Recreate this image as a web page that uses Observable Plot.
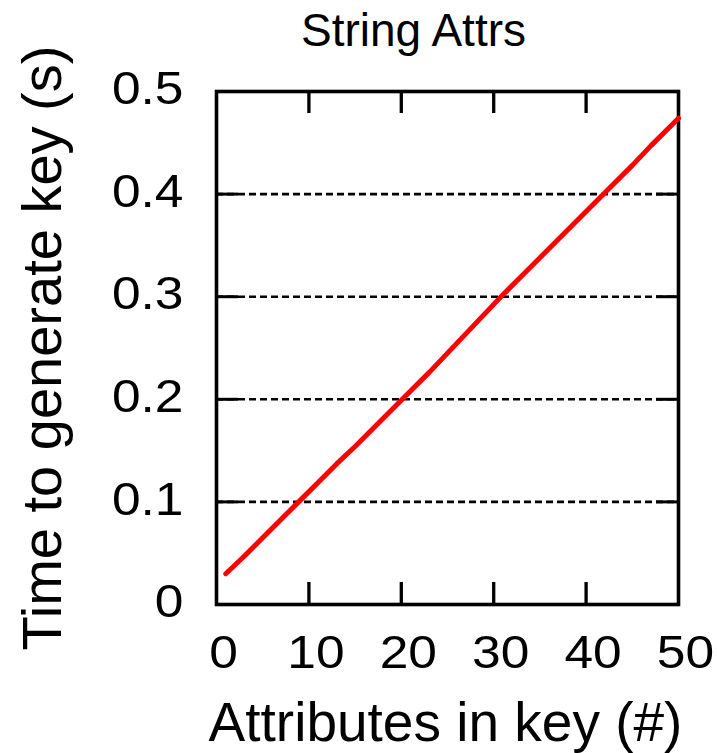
<!DOCTYPE html>
<html>
<head>
<meta charset="utf-8">
<script src="https://cdn.jsdelivr.net/npm/d3@7"></script>
<script src="https://cdn.jsdelivr.net/npm/@observablehq/plot@0.6"></script>
<style>
  html, body { margin: 0; padding: 0; background: white; }
</style>
</head>
<body>
<div id="chart"></div>
<script>
// Data
const attrs = [1, 3, 5, 7, 9, 11, 13, 15, 17, 19, 21, 23, 25, 27, 29, 31, 33, 35, 37, 39, 41, 43, 45, 47, 49, 50];
const times = [0.030, 0.047, 0.065, 0.083, 0.101, 0.119, 0.137, 0.154, 0.172, 0.190, 0.208, 0.226, 0.245, 0.264, 0.283, 0.302, 0.320, 0.338, 0.356, 0.374, 0.392, 0.410, 0.428, 0.447, 0.465, 0.474];
const xTicks = [0, 10, 20, 30, 40, 50];
const yTicks = [0, 0.1, 0.2, 0.3, 0.4, 0.5];
const yGrid = [0.1, 0.2, 0.3, 0.4];
const innerX = [10, 20, 30, 40];
const title = "String Attrs";
const xLabel = "Attributes in key (#)";
const yLabel = "Time to generate key (s)";

const data = attrs.map((a, i) => ({attrs: a, time: times[i]}));

const W = 717, H = 753;
const mL = 216, mR = 39, mT = 91, mB = 149;
const fw = W - mL - mR, fh = H - mT - mB;
const tickLen = 22;

const svg = Plot.plot({
  width: W,
  height: H,
  marginLeft: mL,
  marginRight: mR,
  marginTop: mT,
  marginBottom: mB,
  style: {fontFamily: "'Liberation Sans', Arial, sans-serif", background: "white", color: "black", overflow: "visible"},
  x: {domain: [0, 50]},
  y: {domain: [0, 0.5]},
  marks: [
    Plot.ruleY(yGrid, {y: d => d, stroke: "black", strokeWidth: 2.6, strokeDasharray: "7,4"}),
    Plot.tickY(yGrid, {y: d => d, stroke: "black", strokeWidth: 3, insetRight: fw - tickLen}),
    Plot.tickY(yGrid, {y: d => d, stroke: "black", strokeWidth: 3, insetLeft: fw - tickLen}),
    Plot.tickX(innerX, {x: d => d, stroke: "black", strokeWidth: 3.3, insetBottom: fh - tickLen}),
    Plot.tickX(innerX, {x: d => d, stroke: "black", strokeWidth: 3.3, insetTop: fh - tickLen}),
    Plot.frame({stroke: "black", strokeWidth: 3.6}),
    Plot.line(data, {x: "attrs", y: "time", stroke: "#ff0000", strokeWidth: 5, strokeLinecap: "round", strokeLinejoin: "round"}),
    Plot.axisY(yTicks, {tickSize: 0, tickPadding: 33, fontSize: 46, tickFormat: d => String(d), label: null, dy: -2}),
    Plot.axisX(xTicks, {tickSize: 0, tickPadding: 31, fontSize: 46, tickFormat: d => String(d), label: null, dx: 7}),
    Plot.text([title], {text: d => d, frameAnchor: "top", textAnchor: "middle", lineAnchor: "bottom", dy: -46, dx: -34, fontSize: 46, fill: "black"}),
    Plot.text([xLabel], {text: d => d, frameAnchor: "bottom", textAnchor: "middle", lineAnchor: "bottom", dy: 136, dx: -2, fontSize: 55, fill: "black", ariaLabel: "x-label"}),
    Plot.text([yLabel], {text: d => d, frameAnchor: "left", textAnchor: "middle", lineAnchor: "bottom", rotate: -90, dx: -156, fontSize: 56, fill: "black"})
  ]
});

// horizontally widen glyphs to match the reference's stretched bitmap font
function widen(sel, k) {
  d3.select(svg).selectAll(sel).each(function() {
    const t = this.getAttribute("transform") || "";
    this.setAttribute("transform", t + ` scale(${k},1)`);
  });
}
widen("g[aria-label='y-axis tick label'] text", 1.12);
widen("g[aria-label='x-axis tick label'] text", 1.12);
widen("g[aria-label='x-label'] text", 1.14);

document.getElementById("chart").appendChild(svg);
</script>
</body>
</html>
